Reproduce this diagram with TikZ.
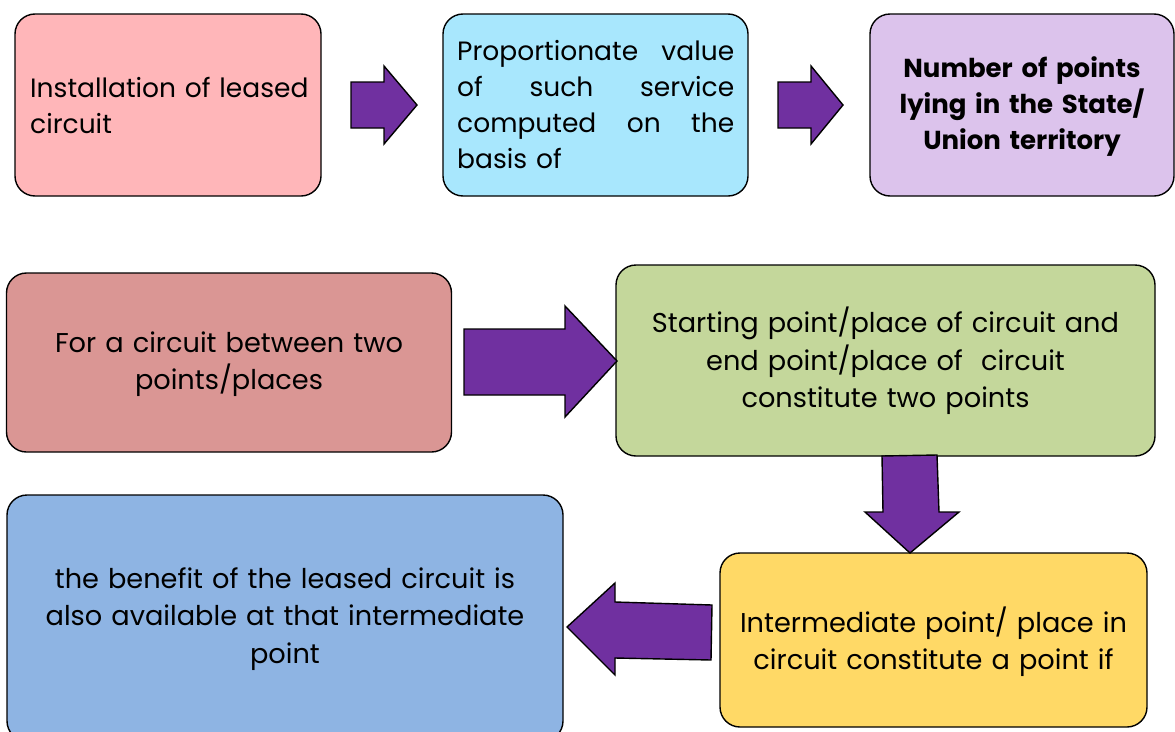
\documentclass[tikz,border=0pt]{standalone}
\usepackage{fontspec}
\setmainfont{Poppins}
\definecolor{cpink}{HTML}{FFB6B9}
\definecolor{cblue}{HTML}{A8E7FD}
\definecolor{clilac}{HTML}{DCC3EC}
\definecolor{crose}{HTML}{DA9694}
\definecolor{cgreen}{HTML}{C4D79B}
\definecolor{cyellow}{HTML}{FFD966}
\definecolor{csteel}{HTML}{8EB4E3}
\definecolor{carrow}{HTML}{7030A0}
\begin{document}
\begin{tikzpicture}[x=1pt,y=-1pt,
  box/.style={draw=black, line width=1.4pt, rounded corners=20pt, inner sep=0pt, outer sep=0pt},
  txt/.style={inner sep=0pt, font=\fontsize{27.2}{37.5}\selectfont},
  toptxt/.style={inner sep=0pt, font=\fontsize{26.5}{36}\selectfont},
  blockarrow/.style={draw=black, line width=1.4pt, fill=carrow, line join=miter}]
\useasboundingbox (0,0) rectangle (1175,731);
\clip (0,0) rectangle (1175,731);
% boxes
\node[box, fill=cpink, minimum width=306pt, minimum height=182pt] (b1) at (168,105) {};
\node[box, fill=cblue, minimum width=305pt, minimum height=182pt] (b2) at (595.5,105) {};
\node[box, fill=clilac, minimum width=304pt, minimum height=182pt] (b3) at (1022,105) {};
\node[box, fill=crose, minimum width=445pt, minimum height=179pt] (b4) at (229,362.5) {};
\node[box, fill=cgreen, minimum width=539pt, minimum height=191pt] (b5) at (885.5,360.5) {};
\node[box, fill=cyellow, minimum width=427pt, minimum height=174pt] (b6) at (933.5,640) {};
\node[box, fill=csteel, minimum width=556pt, minimum height=246pt] (b7) at (285,618) {};
% texts
\node[toptxt, text width=285pt, align=left, anchor=west] (t1) at (30,105.5)
  {Installation of leased\\circuit};
\node[toptxt, text width=277pt, align=left, anchor=west] (t2) at (457,105)
  {\makebox[277pt]{Proportionate\hfill value}\\
   \makebox[277pt]{of\hfill such\hfill service}\\
   \makebox[277pt]{computed\hfill on\hfill the}\\
   basis of};
\node[toptxt, text width=290pt, align=center, font=\fontsize{26}{36}\selectfont\bfseries] (t3) at (1022,106.5)
  {Number of points\\lying in the State/\\Union territory};
\node[txt, text width=430pt, align=center] (t4) at (229,364)
  {For a circuit between two\\points/places};
\node[txt, text width=530pt, align=center] (t5) at (885.5,361)
  {Starting point/place of circuit and\\end point/place of\ \ circuit\\constitute two points};
\node[txt, text width=420pt, align=center] (t6) at (933.5,641.5)
  {Intermediate point/ place in\\circuit constitute a point if};
\node[txt, text width=545pt, align=center] (t7) at (285,619)
  {the benefit of the leased circuit is\\also available at that intermediate\\point};
% block arrows
\draw[blockarrow] (351,82) -- (384,82) -- (384,66) -- (417,105) -- (384,144) -- (384,128) -- (351,128) -- cycle;
\draw[blockarrow] (778,82) -- (811,82) -- (811,66) -- (843,105) -- (811,144) -- (811,128) -- (778,128) -- cycle;
\draw[blockarrow] (464,329) -- (565,329) -- (565,306) -- (617,361) -- (565,417) -- (565,395) -- (464,395) -- cycle;
\draw[blockarrow] (882,456) -- (937,455) -- (939,512) -- (959,512) -- (910,553) -- (865,512) -- (883,512) -- cycle;
\draw[blockarrow] (712,605) -- (711,660) -- (615,658) -- (615,675) -- (567,627) -- (615,583) -- (615,602) -- cycle;
\end{tikzpicture}
\end{document}
